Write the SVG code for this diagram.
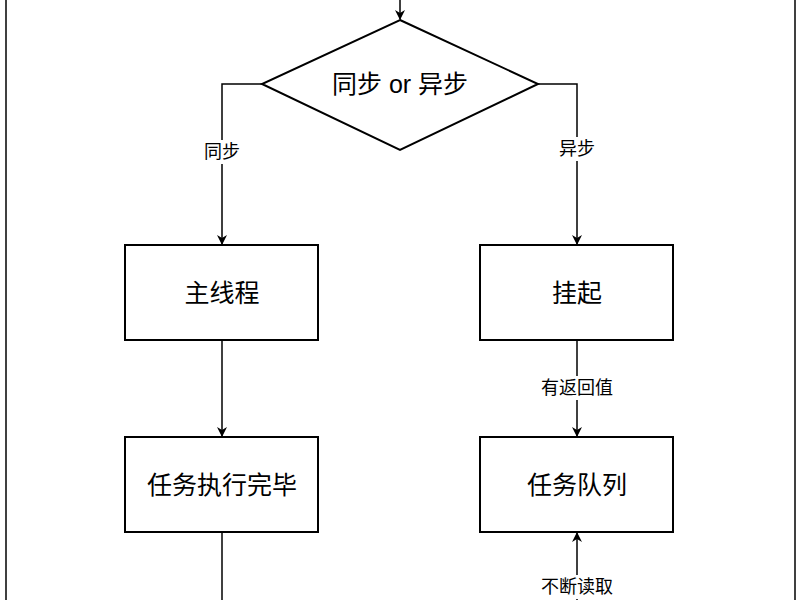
<svg xmlns="http://www.w3.org/2000/svg" width="800" height="600" viewBox="0 0 800 600">
<style>
.s{fill:#fff;stroke:#000;stroke-width:2}
.c{fill:none;stroke:#000;stroke-width:1.5}
.t{font-family:"Liberation Sans","Noto Sans CJK SC",sans-serif;text-anchor:middle;dominant-baseline:central;fill:#000}
.n{font-size:25px}.l{font-size:18px}
.lb{fill:#fff}
</style>
<defs><marker id="a" markerWidth="10" markerHeight="10" refX="9" refY="5" orient="auto" markerUnits="userSpaceOnUse"><path d="M0,0 L10,5 L0,10 L3,5 Z" fill="#000"/></marker></defs>
<rect x="0" y="0" width="800" height="600" fill="#fff"/>
<g id="frame"><line x1="6" y1="0" x2="6" y2="600" class="c"/><line x1="795" y1="0" x2="795" y2="600" class="c"/></g>
<g id="connectors">
<line x1="400" y1="0" x2="400" y2="19" class="c" marker-end="url(#a)"/>
<polyline points="262,84 222,84 222,244" class="c" marker-end="url(#a)"/>
<polyline points="538,84 577,84 577,244" class="c" marker-end="url(#a)"/>
<line x1="222" y1="340" x2="222" y2="436" class="c" marker-end="url(#a)"/>
<line x1="577" y1="340" x2="577" y2="436" class="c" marker-end="url(#a)"/>
<line x1="222" y1="532" x2="222" y2="600" class="c"/>
<line x1="577" y1="600" x2="577" y2="533" class="c" marker-end="url(#a)"/>
<rect x="196" y="140" width="52" height="24" class="lb"/><text x="222" y="152" class="t l">同步</text>
<rect x="551" y="137" width="52" height="24" class="lb"/><text x="577" y="149" class="t l">异步</text>
<rect x="533" y="376" width="88" height="24" class="lb"/><text x="577" y="388" class="t l">有返回值</text>
<rect x="533" y="575" width="88" height="24" class="lb"/><text x="577" y="587" class="t l">不断读取</text>
</g>
<g id="decision"><polygon points="400,20 538,84 400,150 262,84" class="s"/><text x="400" y="84" class="t n">同步 or 异步</text></g>
<g id="main"><rect x="125" y="245" width="193" height="95" class="s"/><text x="222" y="293" class="t n">主线程</text></g>
<g id="suspend"><rect x="480" y="245" width="193" height="95" class="s"/><text x="577" y="293" class="t n">挂起</text></g>
<g id="done"><rect x="125" y="437" width="193" height="95" class="s"/><text x="222" y="485" class="t n">任务执行完毕</text></g>
<g id="queue"><rect x="480" y="437" width="193" height="95" class="s"/><text x="577" y="485" class="t n">任务队列</text></g>
</svg>
